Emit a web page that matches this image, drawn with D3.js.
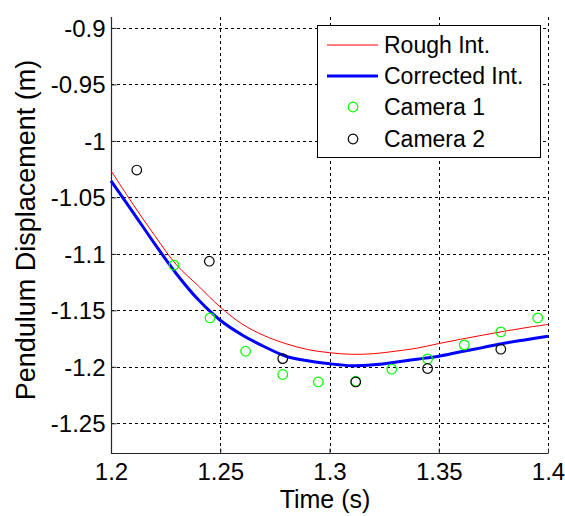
<!DOCTYPE html>
<html>
<head>
<meta charset="utf-8">
<script src="https://cdn.jsdelivr.net/npm/d3@7"></script>
<style>
  html, body { margin: 0; padding: 0; background: #fff; }
  svg { display: block; }
  text { font-family: "Liberation Sans", Arial, sans-serif; fill: #000; }
</style>
</head>
<body>
<svg id="chart" width="565" height="516"></svg>
<script>
// ---- data ----
const curveTimes = [1.20, 1.21, 1.22, 1.23, 1.24, 1.25, 1.26, 1.27, 1.28, 1.29, 1.30,
                    1.31, 1.32, 1.33, 1.34, 1.35, 1.36, 1.37, 1.38, 1.39, 1.40];
const roughInt = [-1.0264, -1.0559, -1.0838, -1.1098, -1.1284, -1.1471, -1.1621, -1.1723,
                  -1.1795, -1.1847, -1.1875, -1.1889, -1.1884, -1.1862, -1.1835, -1.1794,
                  -1.1756, -1.1720, -1.1685, -1.1653, -1.1625];
const correctedInt = [-1.0353, -1.0630, -1.0911, -1.1178, -1.1407, -1.1588, -1.1718, -1.1820,
                      -1.1906, -1.1947, -1.1973, -1.1990, -1.1982, -1.1959, -1.1933, -1.1906,
                      -1.1867, -1.1830, -1.1791, -1.1760, -1.1729];
const cam1Times = [1.2288, 1.2453, 1.2616, 1.2786, 1.2949, 1.3120, 1.3285, 1.3449, 1.3617, 1.3784, 1.3953];
const cam1Vals  = [-1.1100, -1.1567, -1.1862, -1.2068, -1.2134, -1.2128, -1.2021, -1.1930, -1.1806, -1.1691, -1.1567];
const cam2Times = [1.2118, 1.2450, 1.2786, 1.3120, 1.3449, 1.3784];
const cam2Vals  = [-1.0258, -1.1065, -1.1927, -1.2134, -1.2015, -1.1844];
const xTicks = [1.2, 1.25, 1.3, 1.35, 1.4];
const xTickLabels = ["1.2", "1.25", "1.3", "1.35", "1.4"];
const yTicks = [-1.25, -1.2, -1.15, -1.1, -1.05, -1, -0.95, -0.9];
const yTickLabels = ["-1.25", "-1.2", "-1.15", "-1.1", "-1.05", "-1", "-0.95", "-0.9"];
const legendLabels = ["Rough Int.", "Corrected Int.", "Camera 1", "Camera 2"];
const xLabel = "Time (s)";
const yLabel = "Pendulum Displacement (m)";

// ---- layout ----
const L = 111, R = 548, T = 17, B = 453;
const svg = d3.select("#chart");
const x = d3.scaleLinear().domain([1.2, 1.4]).range([L, R]);
const y = d3.scaleLinear().domain([-1.2763, -0.8903]).range([B, T]);

// grid
const grid = svg.append("g").attr("stroke", "#000").attr("stroke-width", 1)
  .attr("stroke-dasharray", "3,3").attr("fill", "none");
xTicks.forEach(t => {
  if (t === 1.2) return;
  grid.append("line").attr("x1", Math.round(x(t)) + 0.5).attr("x2", Math.round(x(t)) + 0.5)
    .attr("y1", T).attr("y2", B);
});
yTicks.forEach(t => {
  grid.append("line").attr("x1", L).attr("x2", R)
    .attr("y1", Math.round(y(t)) + 0.5).attr("y2", Math.round(y(t)) + 0.5);
});

// axes
const xAxis = d3.axisBottom(x).tickValues(xTicks).tickFormat((d, i) => xTickLabels[i])
  .tickSizeInner(-5).tickSizeOuter(0).tickPadding(12);
const yAxis = d3.axisLeft(y).tickValues(yTicks).tickFormat((d, i) => yTickLabels[i])
  .tickSizeInner(-5).tickSizeOuter(0).tickPadding(12);

const gx = svg.append("g").attr("transform", `translate(0,${B + 0.5})`).call(xAxis);
const gy = svg.append("g").attr("transform", `translate(${L + 0.5},0)`).call(yAxis);
[gx, gy].forEach(g => {
  g.select(".domain").attr("stroke", "#262626").attr("stroke-width", 1.2);
  g.selectAll(".tick line").attr("stroke", "#262626");
  g.selectAll(".tick text").attr("font-size", 24)
    .style("font-family", '"Liberation Sans", Arial, sans-serif').attr("fill", "#000");
});
gx.selectAll(".tick text").attr("dy", null).attr("y", 26.5);
gy.selectAll(".tick text").attr("x", -6).attr("dy", "0.35em");
gx.select(".domain").attr("d", `M${L},0H${R}`);
gy.select(".domain").attr("d", `M0,${T}V${B + 0.5}`);

// lines
const lineGen = d3.line().x(d => x(d[0])).y(d => y(d[1])).curve(d3.curveCatmullRom);
svg.append("path").datum(curveTimes.map((t, i) => [t, roughInt[i]]))
  .attr("d", lineGen).attr("fill", "none").attr("stroke", "#ff0000").attr("stroke-width", 1);
svg.append("path").datum(curveTimes.map((t, i) => [t, correctedInt[i]]))
  .attr("d", lineGen).attr("fill", "none").attr("stroke", "#0000ff").attr("stroke-width", 3);

// markers
svg.append("g").selectAll("circle").data(cam1Times.map((t, i) => [t, cam1Vals[i]]))
  .join("circle").attr("cx", d => x(d[0])).attr("cy", d => y(d[1])).attr("r", 4.8)
  .attr("fill", "none").attr("stroke", "#00ff00").attr("stroke-width", 1.2);
svg.append("g").selectAll("circle").data(cam2Times.map((t, i) => [t, cam2Vals[i]]))
  .join("circle").attr("cx", d => x(d[0])).attr("cy", d => y(d[1])).attr("r", 4.8)
  .attr("fill", "none").attr("stroke", "#000").attr("stroke-width", 1.2);

// axis labels
svg.append("text").attr("x", 325).attr("y", 508).attr("text-anchor", "middle")
  .attr("font-size", 25).text(xLabel);
svg.append("text").attr("transform", `translate(35,230) rotate(-90)`)
  .attr("text-anchor", "middle").attr("font-size", 27).text(yLabel);

// legend
const lg = svg.append("g");
lg.append("rect").attr("x", 317.5).attr("y", 25.5).attr("width", 223).attr("height", 132)
  .attr("fill", "#fff").attr("stroke", "#000").attr("stroke-width", 1);
const rowY = [45, 76, 107, 139];
const legendStyles = [
  {type: "line", color: "#ff0000", w: 1},
  {type: "line", color: "#0000ff", w: 3},
  {type: "dot", color: "#00ff00"},
  {type: "dot", color: "#000"}
];
legendLabels.forEach((lab, i) => {
  const s = legendStyles[i];
  if (s.type === "line") {
    lg.append("line").attr("x1", 327).attr("x2", 378).attr("y1", rowY[i]).attr("y2", rowY[i])
      .attr("stroke", s.color).attr("stroke-width", s.w);
  } else {
    lg.append("circle").attr("cx", 353).attr("cy", rowY[i]).attr("r", 4.8)
      .attr("fill", "none").attr("stroke", s.color).attr("stroke-width", 1.2);
  }
  lg.append("text").attr("x", 384).attr("y", rowY[i]).attr("dy", "0.36em")
    .attr("font-size", 23).text(lab);
});
</script>
</body>
</html>
